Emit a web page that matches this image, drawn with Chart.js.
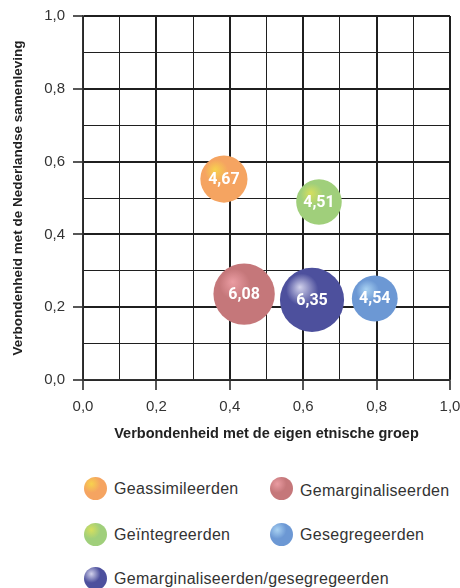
<!DOCTYPE html>
<html>
<head>
<meta charset="utf-8">
<script src="https://cdn.jsdelivr.net/npm/chart.js@4.4.1/dist/chart.umd.min.js"></script>
<style>
  html, body { margin: 0; padding: 0; background: #fff; }
  #wrap { position: relative; width: 460px; height: 588px; overflow: hidden; }
  #chartBox { position: absolute; left: 0; top: 0; width: 460px; height: 450px; }
  .lg { position: absolute; font-family: "Liberation Sans", Arial, sans-serif; font-size: 16px; color: #333; letter-spacing: 0.3px; white-space: nowrap; line-height: 20px; }
  .dot { position: absolute; width: 23px; height: 23px; border-radius: 50%; }
</style>
</head>
<body>
<div id="wrap">
  <div id="chartBox"><canvas id="c"></canvas></div>
  <div id="legend"></div>
</div>
<script>
const categories = ['Geassimileerden', 'Geïntegreerden', 'Gemarginaliseerden', 'Gemarginaliseerden/gesegregeerden', 'Gesegregeerden'];
const xValues = [0.384, 0.643, 0.439, 0.624, 0.795];
const yValues = [0.552, 0.489, 0.236, 0.220, 0.224];
const sizes = [4.67, 4.51, 6.08, 6.35, 4.54];
const sizeLabels = ['4,67', '4,51', '6,08', '6,35', '4,54'];
const axisTicks = [0.0, 0.2, 0.4, 0.6, 0.8, 1.0];
const xTitle = 'Verbondenheid met de eigen etnische groep';
const yTitle = 'Verbondenheid met de Nederlandse samenleving';

const baseColors = ['#F5A461', '#A0CF7B', '#C5777A', '#4D509D', '#6C98D4'];
const hiColors   = ['#F7D24E', '#D6DF5E', '#EA9CA2', '#D2D2EC', '#A9D2F2'];

const RADIUS_SCALE = 5.05;

function gradFor(ctx, i) {
  const chart = ctx.chart;
  const xs = chart.scales.x, ys = chart.scales.y;
  if (!xs || !ys || !chart.chartArea) return baseColors[i];
  const cx = xs.getPixelForValue(xValues[i]);
  const cy = ys.getPixelForValue(yValues[i]);
  const r = sizes[i] * RADIUS_SCALE;
  if (!isFinite(cx) || !isFinite(cy)) return baseColors[i];
  const g = chart.ctx.createRadialGradient(cx - r * 0.38, cy - r * 0.4, 0, cx - r * 0.2, cy - r * 0.2, r * 1.25);
  g.addColorStop(0, hiColors[i]);
  g.addColorStop(0.4, baseColors[i]);
  g.addColorStop(1, baseColors[i]);
  return g;
}

const datasets = categories.map((name, i) => ({
  label: name,
  data: [{ x: xValues[i], y: yValues[i] }],
  backgroundColor: (ctx) => gradFor(ctx, i),
  borderWidth: 0,
  radius: () => sizes[i] * RADIUS_SCALE,
}));

const labelPlugin = {
  id: 'bubbleLabels',
  afterDatasetsDraw(chart) {
    const c = chart.ctx;
    c.save();
    c.fillStyle = '#ffffff';
    c.font = 'bold 16px Roboto, "Liberation Sans", Arial, sans-serif';
    c.textAlign = 'center';
    c.textBaseline = 'middle';
    chart.data.datasets.forEach((ds, i) => {
      const meta = chart.getDatasetMeta(i);
      const el = meta.data[0];
      if (el) c.fillText(sizeLabels[i], el.x, el.y + 1);
    });
    c.restore();
  }
};

const fmt = (v) => v.toFixed(1).replace('.', ',');
const isMajor = (v) => axisTicks.some(t => Math.abs(t - v) < 1e-6);

function gridOpts() {
  return {
    color: '#1f1f1f',
    lineWidth: (ctx) => (ctx.tick && isMajor(ctx.tick.value)) ? 2 : 1,
    tickColor: (ctx) => (ctx.tick && isMajor(ctx.tick.value)) ? '#1f1f1f' : 'rgba(0,0,0,0)',
    tickLength: 10,
    tickWidth: 1.5,
    drawOnChartArea: true,
  };
}

// HTML legend
const legendPos = [
  { i: 0, dx: 84, ty: 488 },
  { i: 2, dx: 270, ty: 488 },
  { i: 1, dx: 84, ty: 534 },
  { i: 4, dx: 270, ty: 534 },
  { i: 3, dx: 84, ty: 578 },
];
const lg = document.getElementById('legend');
legendPos.forEach(p => {
  const d = document.createElement('div');
  d.className = 'dot';
  d.style.left = p.dx + 'px';
  d.style.top = (p.ty - 11.5) + 'px';
  d.style.background = `radial-gradient(circle at 32% 30%, ${hiColors[p.i]} 0%, ${baseColors[p.i]} 40%, ${baseColors[p.i]} 100%)`;
  lg.appendChild(d);
  const t = document.createElement('div');
  t.className = 'lg';
  t.style.left = (p.dx + 30) + 'px';
  t.style.top = (p.ty - 9 + (p.i === 2 ? 2 : 0)) + 'px';
  t.textContent = categories[p.i];
  lg.appendChild(t);
});

new Chart(document.getElementById('c'), {
  type: 'bubble',
  data: { datasets },
  plugins: [labelPlugin],
  options: {
    responsive: true,
    maintainAspectRatio: false,
    animation: false,
    events: [],
    layout: { autoPadding: false, padding: { left: 0, right: 10, top: 16, bottom: 0 } },
    plugins: { legend: { display: false }, tooltip: { enabled: false } },
    scales: {
      x: {
        type: 'linear', min: 0, max: 1,
        afterFit: (s) => { s.height = 70; s.paddingLeft = 0; s.paddingRight = 0; },
        grid: gridOpts(),
        border: { display: true, color: '#333', width: 1.5 },
        ticks: {
          stepSize: 0.1, autoSkip: false, maxRotation: 0, padding: 8,
          color: '#333',
          font: { family: '"Liberation Sans", Arial, sans-serif', size: 15 },
          callback: (v) => isMajor(v) ? fmt(v) : ''
        },
        title: {
          display: true, text: xTitle, color: '#222',
          font: { family: '"Liberation Sans", Arial, sans-serif', size: 14.5, weight: 'bold' },
          padding: { top: 0, bottom: 7 }
        }
      },
      y: {
        type: 'linear', min: 0, max: 1,
        afterFit: (s) => { s.width = 83; s.paddingTop = 0; s.paddingBottom = 0; },
        grid: gridOpts(),
        border: { display: true, color: '#333', width: 1.5 },
        ticks: {
          stepSize: 0.1, autoSkip: false, padding: 8,
          color: '#333',
          font: { family: '"Liberation Sans", Arial, sans-serif', size: 15 },
          callback: (v) => isMajor(v) ? fmt(v) : ''
        },
        title: {
          display: true, text: yTitle, color: '#222',
          font: { family: '"Liberation Sans", Arial, sans-serif', size: 13.5, weight: 'bold' },
          padding: { top: 10, bottom: 0 }
        }
      }
    }
  }
});
</script>
</body>
</html>
